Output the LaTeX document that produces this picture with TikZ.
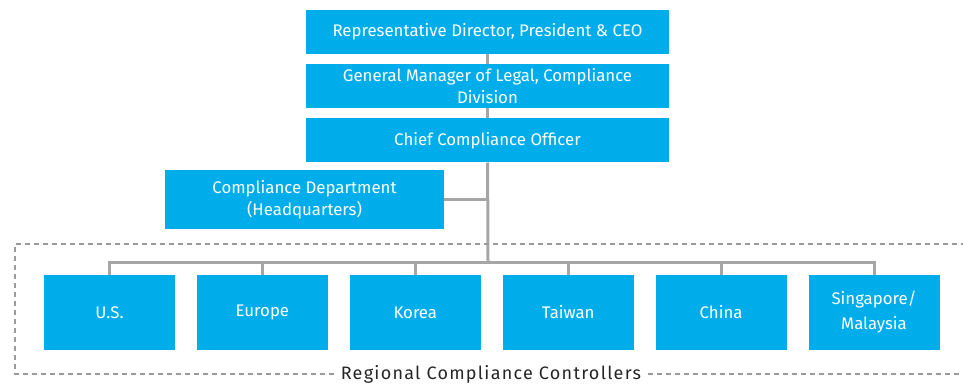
\documentclass[tikz,border=0pt]{standalone}
\usepackage{fontspec}
\setmainfont{Fira Sans}
\usetikzlibrary{positioning}
\definecolor{boxblue}{HTML}{00ADEB}
\definecolor{linegray}{HTML}{A6A6A6}
\definecolor{framegray}{HTML}{9A9A9A}
\begin{document}
\begin{tikzpicture}[x=1pt,y=-1pt,node distance=10pt,
                    box/.style={fill=boxblue,text=white,align=center,inner sep=0pt,
                                font=\fontsize{16.8}{22}\selectfont},
                    top/.style={box,minimum width=363pt,minimum height=44pt},
                    region/.style={box,minimum width=131pt,minimum height=75pt,
                                   font=\fontsize{16.8}{25}\selectfont},
                    link/.style={draw=linegray,line width=3pt},
                    frame/.style={draw=framegray,line width=2pt,dash pattern=on 5pt off 4pt}]
  \useasboundingbox (0,0) rectangle (963,388);

  \node[top]                        (ceo) at (487.5,31.5) {Representative Director, President \& CEO};
  \node[top]                        (gm)  [below=of ceo]  {General Manager of Legal, Compliance\\Division};
  \node[top]                        (cco) [below=of gm]   {Chief Compliance Officer};
  \node[box,minimum width=279pt,
        minimum height=59pt]        (hq)  at (304.5,199.5) {Compliance Department\\(Headquarters)};

  \node[region]                     (us)  at (109.5,312.5) {U.S.};
  \node[region]                     (eu)  [right=21.5pt of us] {Europe};
  \node[region]                     (kr)  [right=21.5pt of eu] {Korea};
  \node[region]                     (tw)  [right=21.5pt of kr] {Taiwan};
  \node[region]                     (cn)  [right=21.5pt of tw] {China};
  \node[region]                     (sg)  [right=21.5pt of cn] {Singapore/\\Malaysia};

  \coordinate (bus) at (488,262);

  % reporting lines
  \draw[link] (ceo) -- (gm);
  \draw[link] (gm) -- (cco);
  \draw[link] (cco) -- (bus);
  \draw[link] (hq.east) -- (hq.east -| bus);
  \draw[link] (us.north) -- (us.north |- bus) -- (sg.north |- bus) -- (sg.north);
  \foreach \r in {eu,kr,tw,cn}
    \draw[link] (\r.north) -- (\r.north |- bus);

  % regional group
  \node[font=\fontsize{18}{20}\selectfont\addfontfeature{LetterSpace=7},text=black!85]
       (rcc) at (491,374) {Regional Compliance Controllers};
  \draw[frame] ([xshift=-3pt]rcc.west) -| (15,244) -- (963,244);
  \draw[frame] ([xshift=3pt]rcc.east) -- (963,374);
\end{tikzpicture}
\end{document}
